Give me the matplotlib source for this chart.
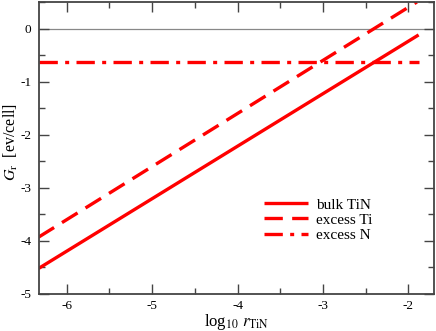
import matplotlib
matplotlib.use("Agg")
import matplotlib.pyplot as plt
import numpy as np

plt.rcParams['font.family'] = ['Liberation Serif', 'DejaVu Serif']
plt.rcParams['mathtext.fontset'] = 'stix'
plt.rcParams['axes.unicode_minus'] = False

# data
x_bulk = [-6.33, -1.88]
y_bulk = [-4.52, -0.12]
x_ti = [-6.33, -1.9]
y_ti = [-3.93, 0.5]
x_n = [-6.33, -1.88]
y_n = [-0.63, -0.63]
labels = ["bulk TiN", "excess Ti", "excess N"]

fig = plt.figure(figsize=(4.36, 3.31), dpi=100)
ax = fig.add_axes([38.5/436, 1 - 294/331, (434-38.5)/436, (294-2)/331])

ax.axhline(0, color='#888888', lw=0.9, zorder=1)
red = '#ff0000'
ax.plot(x_bulk, y_bulk, color=red, lw=2.4, label=labels[0], solid_capstyle='butt')
ax.plot(x_ti, y_ti, color=red, lw=2.4, dashes=(5.5, 2.8), label=labels[1])
ax.plot(x_n, y_n, color=red, lw=2.4, dashes=(5.5, 2.2, 1.2, 2.2), label=labels[2])

ax.set_xticks([-6, -5, -4, -3, -2])
ax.set_xticks(np.arange(-6.0, -1.5, 0.5), minor=True)
ax.set_yticks([-5, -4, -3, -2, -1, 0])
ax.set_yticks(np.arange(-5, 0.6, 0.5), minor=True)
ax.set_xlim(-6.33, -1.7)
ax.set_ylim(-5, 0.5)
ax.tick_params(which='both', direction='in', top=True, right=True, color='#444444', labelsize=9.5)
ax.tick_params(which='major', length=7, width=1)
ax.tick_params(axis='x', which='major', pad=4.5)
ax.tick_params(axis='y', which='major', pad=5)
ax.tick_params(which='minor', length=4, width=1)
for s in ax.spines.values():
    s.set_linewidth(1.3)
    s.set_color('#444444')

ax.set_xlabel(r'log$_{10}$ $r_{\rm TiN}$', fontsize=12)
ax.xaxis.set_label_coords(0.5, -0.06)
ax.set_ylabel(r'$G_{\rm r}$  [ev/cell]', fontsize=11.5)
ax.yaxis.set_label_coords(-0.048, 0.52)

leg = ax.legend(loc='upper left', bbox_to_anchor=(0.555, 0.35), frameon=False,
                fontsize=11, handlelength=2.9, handletextpad=0.5,
                labelspacing=0.1, borderaxespad=0)

fig.savefig('out.png', dpi=100)
